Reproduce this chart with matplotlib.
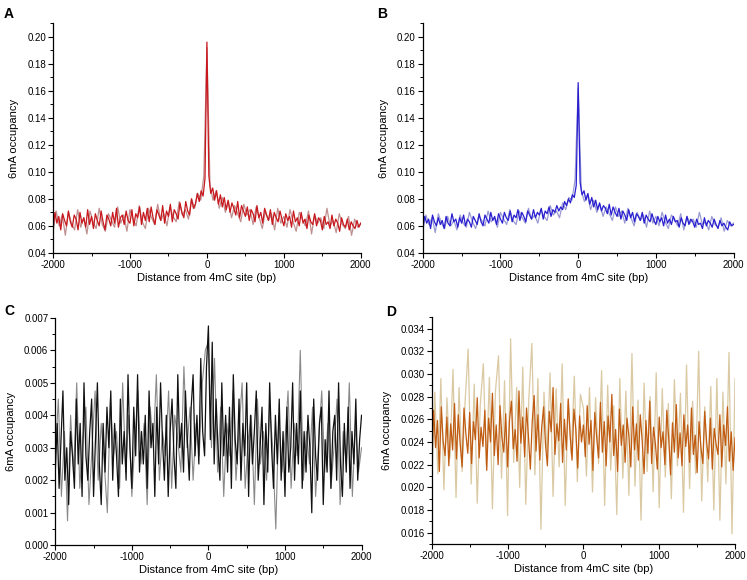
import numpy as np
import matplotlib.pyplot as plt
from matplotlib.ticker import MultipleLocator, FormatStrFormatter

plt.rcParams['font.family'] = ['Liberation Sans', 'DejaVu Sans']
plt.rcParams['axes.unicode_minus'] = False

# positions (bp) for the dense traces (step 25) and the pale traces (step 40)
x_dense = np.arange(-2000, 2001, 25)
x_pale = np.arange(-2000, 2001, 40)

# Panel A, 6mA occupancy in thousandths
a_dark = [58, 70, 62, 67, 57, 69, 64, 60, 71, 63,
          59, 68, 65, 57, 70, 62, 66, 59, 72, 61,
          67, 58, 69, 64, 60, 71, 63, 57, 68, 65,
          60, 70, 62, 73, 59, 66, 68, 61, 71, 64,
          62, 72, 60, 69, 66, 74, 61, 70, 64, 73,
          63, 74, 66, 61, 72, 68, 64, 75, 62, 71,
          67, 76, 63, 72, 69, 65, 77, 70, 66, 78,
          71, 68, 80, 73, 76, 84, 78, 86, 82, 95,
          196,
          97, 84, 88, 79, 86, 76, 83, 74, 81, 72,
          79, 70, 77, 73, 68, 78, 66, 75, 71, 67,
          74, 64, 72, 69, 63, 75, 66, 70, 62, 73,
          68, 64, 72, 61, 70, 66, 63, 71, 65, 60,
          69, 64, 67, 59, 71, 63, 66, 60, 70, 62,
          65, 58, 68, 63, 61, 69, 60, 66, 64, 57,
          67, 61, 63, 58, 68, 60, 65, 62, 56, 66,
          61, 59, 65, 57, 63, 60, 58, 64, 59, 62]
a_pale = [55, 71, 60, 68, 53, 70, 62, 57, 72, 59,
          66, 54, 71, 63, 58, 73, 61, 56, 69, 64,
          59, 74, 62, 68, 56, 72, 65, 60, 75, 63,
          58, 73, 66, 61, 76, 64, 69, 60, 74, 67,
          63, 78, 68, 72, 65, 80, 73, 84, 79, 97,
          192,
          90, 79, 86, 73, 81, 70, 78, 66, 75, 69,
          63, 76, 68, 72, 61, 74, 66, 58, 71, 64,
          69, 57, 73, 62, 67, 59, 72, 63, 56, 70,
          65, 60, 71, 54, 68, 62, 66, 58, 73, 60,
          64, 55, 69, 61, 58, 67, 53, 65, 59, 62]

# Panel B, thousandths
b_dark = [59, 67, 62, 65, 58, 68, 63, 60, 66, 61,
          64, 58, 67, 62, 60, 69, 63, 65, 59, 66,
          62, 68, 60, 65, 63, 59, 67, 64, 61, 69,
          63, 60, 68, 65, 62, 70, 64, 67, 61, 69,
          65, 62, 70, 66, 64, 71, 63, 68, 66, 72,
          64, 70, 67, 63, 71, 68, 65, 72, 66, 70,
          68, 73, 65, 71, 69, 74, 67, 72, 70, 75,
          71, 74, 72, 78, 75, 80, 77, 83, 81, 90,
          166,
          92, 83, 86, 79, 84, 76, 81, 74, 79, 72,
          77, 71, 75, 73, 69, 76, 68, 74, 70, 67,
          73, 65, 71, 68, 64, 72, 66, 70, 63, 69,
          67, 64, 70, 62, 68, 65, 63, 69, 64, 61,
          67, 63, 66, 60, 68, 62, 65, 61, 67, 63,
          64, 59, 66, 62, 60, 67, 61, 65, 63, 59,
          65, 61, 62, 58, 66, 60, 64, 62, 59, 65,
          61, 58, 64, 60, 62, 59, 57, 63, 60, 61]
b_pale = [57, 68, 61, 66, 55, 69, 62, 58, 67, 60,
          64, 57, 68, 62, 59, 70, 63, 58, 67, 64,
          60, 71, 63, 66, 59, 70, 65, 61, 72, 64,
          61, 71, 66, 62, 73, 65, 68, 62, 72, 67,
          64, 75, 68, 71, 66, 77, 72, 81, 79, 94,
          162,
          86, 78, 83, 72, 79, 70, 76, 67, 74, 69,
          64, 74, 67, 71, 62, 73, 66, 60, 70, 64,
          68, 59, 71, 62, 67, 60, 70, 63, 58, 68,
          65, 60, 69, 57, 67, 62, 65, 59, 70, 61,
          63, 57, 67, 61, 59, 66, 56, 64, 60, 62]

# Panel C, in units of 0.00025
c_dark = [9, 15, 7, 13, 19, 8, 12, 5, 14, 11,
          7, 18, 10, 15, 6, 20, 11, 8, 14, 18,
          6, 13, 20, 10, 5, 15, 9, 17, 12, 19,
          8, 15, 11, 6, 18, 10, 14, 8, 21, 12,
          7, 17, 11, 21, 9, 14, 10, 16, 7, 19,
          12, 15, 6, 17, 10, 20, 13, 8, 16, 6,
          14, 18, 11, 7, 21, 12, 15, 9, 19, 13,
          8, 17, 21, 11, 16, 10, 23, 14, 11, 22,
          27,
          13, 25, 10, 18, 12, 8, 20, 11, 16, 9,
          17, 7, 21, 13, 10, 18, 8, 15, 11, 20,
          6, 16, 10, 14, 19, 8, 12, 17, 5, 15,
          9, 20, 12, 7, 16, 10, 18, 8, 14, 6,
          17, 9, 12, 20, 8, 15, 10, 19, 7, 14,
          9, 16, 12, 4, 18, 11, 8, 15, 17, 5,
          13, 9, 19, 7, 14, 16, 8, 20, 10, 6,
          15, 9, 17, 7, 14, 10, 18, 8, 13, 16]
c_pale = [11, 18, 6, 14, 3, 16, 9, 20, 7, 13,
          17, 5, 12, 19, 8, 15, 10, 4, 18, 11,
          14, 7, 20, 9, 16, 6, 13, 19, 10, 15,
          5, 17, 12, 21, 8, 14, 11, 19, 7, 16,
          13, 9, 22, 12, 17, 8, 15, 11, 20, 24,
          25,
          12, 23, 9, 17, 6, 15, 11, 19, 8, 14,
          20, 7, 13, 16, 5, 18, 10, 14, 8, 17,
          12, 2, 16, 9, 13, 19, 7, 15, 11, 24,
          8, 14, 10, 17, 6, 13, 19, 9, 15, 7,
          12, 18, 5, 14, 10, 20, 6, 15, 9, 12]

# Panel D, in units of 0.0001
d_dark = [222, 268, 235, 259, 214, 271, 241, 228, 262, 219,
          256, 233, 274, 225, 264, 238, 218, 270, 247, 230,
          266, 221, 258, 242, 279, 226, 253, 236, 268, 215,
          261, 240, 283, 228, 255, 220, 272, 244, 231, 265,
          218, 259, 276, 234, 251, 223, 285, 239, 262, 227,
          270, 245, 216, 258, 281, 232, 264, 224, 253, 271,
          238, 219, 267, 249, 288, 229, 256, 241, 274, 222,
          260, 233, 278, 246, 224, 269, 251, 217, 263, 240,
          255,
          227, 272, 238, 259, 215, 266, 244, 226, 275, 231,
          258, 219, 263, 240, 282, 228, 251, 214, 269, 237,
          255, 222, 261, 245, 218, 271, 233, 256, 224, 264,
          241, 212, 259, 230, 276, 221, 253, 238, 216, 262,
          235, 249, 220, 268, 243, 211, 257, 231, 273, 226,
          248, 219, 264, 236, 255, 222, 270, 229, 246, 213,
          258, 235, 221, 267, 240, 225, 261, 216, 252, 238,
          229, 264, 218, 255, 237, 271, 223, 249, 215, 244]
d_pale = [205, 284, 212, 296, 198, 279, 226, 304, 191, 288,
          214, 276, 322, 203, 291, 186, 273, 309, 219, 297,
          181, 285, 316, 208, 294, 175, 331, 222, 288, 200,
          306, 185, 278, 327, 211, 296, 163, 284, 230, 301,
          192, 287, 218, 309, 184, 276, 229, 298, 205, 282,
          270,
          210, 288, 196, 279, 221, 303, 184, 290, 215, 272,
          176, 296, 208, 285, 193, 318, 201, 277, 171, 292,
          214, 280, 196, 301, 182, 287, 209, 274, 190, 295,
          219, 283, 178, 308, 199, 276, 212, 320, 188, 271,
          205, 289, 180, 296, 171, 284, 203, 319, 159, 296]

XLABEL = "Distance from 4mC site (bp)"
YLABEL = "6mA occupancy"


def style_axes(ax, ylim, ymajor, yfmt):
    for s in ['top', 'right']:
        ax.spines[s].set_visible(False)
    for s in ['left', 'bottom']:
        ax.spines[s].set_linewidth(0.9)
    ax.set_xlim(-2000, 2000)
    ax.set_ylim(*ylim)
    ax.xaxis.set_major_locator(MultipleLocator(1000))
    ax.xaxis.set_minor_locator(MultipleLocator(500))
    ax.yaxis.set_major_locator(MultipleLocator(ymajor))
    ax.yaxis.set_minor_locator(MultipleLocator(ymajor / 2))
    ax.yaxis.set_major_formatter(FormatStrFormatter(yfmt))
    ax.tick_params(which='major', direction='out', length=3.5, width=0.8,
                   labelsize=7, pad=1.5)
    ax.tick_params(which='minor', direction='out', length=2, width=0.7)
    ax.set_xlabel(XLABEL, fontsize=8, labelpad=2)
    ax.set_ylabel(YLABEL, fontsize=8, labelpad=6)


fig = plt.figure(figsize=(7.47, 5.8), dpi=100)

axA = fig.add_axes([0.071, 0.564, 0.412, 0.396])
axA.plot(x_pale, np.array(a_pale) / 1000, color='#c09090', lw=0.9)
axA.plot(x_dense, np.array(a_dark) / 1000, color='#c8171d', lw=0.9)
style_axes(axA, (0.04, 0.21), 0.02, '%.2f')

axB = fig.add_axes([0.566, 0.564, 0.416, 0.396])
axB.plot(x_pale, np.array(b_pale) / 1000, color='#9a9ad4', lw=0.9)
axB.plot(x_dense, np.array(b_dark) / 1000, color='#2a1fd0', lw=0.9)
style_axes(axB, (0.04, 0.21), 0.02, '%.2f')

axC = fig.add_axes([0.074, 0.060, 0.410, 0.392])
axC.plot(x_pale, np.array(c_pale) * 0.00025, color='#8a8a8a', lw=0.8)
axC.plot(x_dense, np.array(c_dark) * 0.00025, color='#111111', lw=0.9)
style_axes(axC, (0.0, 0.007), 0.001, '%.3f')

axD = fig.add_axes([0.578, 0.062, 0.406, 0.391])
axD.plot(x_pale, np.array(d_pale) / 10000, color='#dac9a2', lw=0.9)
axD.plot(x_dense, np.array(d_dark) / 10000, color='#c05c12', lw=0.9)
style_axes(axD, (0.015, 0.035), 0.002, '%.3f')

for lab, (px, py) in zip("ABCD", [(4, 14), (377, 14), (4, 311), (386, 312)]):
    fig.text(px / 747, 1 - py / 580, lab, fontsize=10, fontweight='bold',
             ha='left', va='center')

fig.savefig("out.png", dpi=100)
